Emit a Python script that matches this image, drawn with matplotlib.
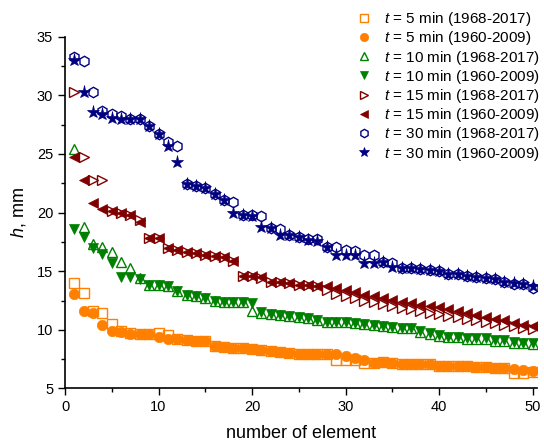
import matplotlib
matplotlib.use("Agg")
import matplotlib.pyplot as plt
from matplotlib.ticker import MultipleLocator

plt.rcParams['font.family'] = ['Liberation Sans', 'DejaVu Sans']
plt.rcParams['mathtext.fontset'] = 'custom'
plt.rcParams['mathtext.rm'] = 'Liberation Sans'
plt.rcParams['mathtext.it'] = 'Liberation Sans:italic'

# element numbers
elements = list(range(1, 51))

# t = 5 min
h5_new = [13.97, 13.15, 11.6, 11.45, 10.5, 9.9, 9.7, 9.65, 9.65, 9.76,
          9.56, 9.22, 9.14, 9.05, 9.05, 8.63, 8.51, 8.43, 8.43, 8.34,
          8.3, 8.2, 8.15, 8.0, 7.97, 7.97, 7.9, 7.9, 7.47, 7.47,
          7.47, 7.2, 7.2, 7.25, 7.2, 7.1, 7.1, 7.05, 7.05, 6.95,
          6.95, 6.9, 6.9, 6.85, 6.85, 6.77, 6.77, 6.35, 6.35, 6.4]
h5_old = [13.1, 11.65, 11.4, 10.45, 9.93, 9.85, 9.65, 9.65, 9.65, 9.37,
          9.22, 9.22, 9.14, 9.05, 9.05, 8.63, 8.51, 8.43, 8.43, 8.34,
          8.3, 8.2, 8.15, 8.0, 7.97, 7.97, 7.9, 7.9, 7.9, 7.76,
          7.62, 7.4, 7.2, 7.25, 7.2, 7.1, 7.1, 7.05, 7.05, 6.95,
          6.95, 6.9, 6.9, 6.85, 6.85, 6.77, 6.77, 6.7, 6.6, 6.5]

# t = 10 min
h10_new = [25.4, 18.8, 17.3, 17.1, 16.6, 15.8, 15.25, 14.4, 13.8, 13.8,
           13.7, 13.35, 13.0, 12.9, 12.7, 12.5, 12.4, 12.4, 12.4, 11.6,
           11.45, 11.35, 11.27, 11.2, 11.13, 11.0, 10.84, 10.7, 10.7, 10.65,
           10.56, 10.5, 10.42, 10.35, 10.27, 10.2, 10.13, 9.8, 9.65, 9.5,
           9.35, 9.35, 9.2, 9.2, 9.2, 9.05, 9.05, 8.92, 8.85, 8.8]
h10_old = [18.6, 17.95, 16.95, 16.5, 15.7, 14.55, 14.55, 14.3, 13.8, 13.8,
           13.7, 13.35, 13.0, 12.9, 12.7, 12.5, 12.4, 12.4, 12.4, 12.3,
           11.5, 11.35, 11.27, 11.2, 11.13, 11.0, 10.84, 10.7, 10.7, 10.65,
           10.56, 10.5, 10.42, 10.35, 10.27, 10.2, 10.13, 9.9, 9.71, 9.56,
           9.42, 9.42, 9.28, 9.28, 9.28, 9.14, 9.14, 8.99, 8.92, 8.85]

# t = 15 min
h15_new = [30.3, 24.7, 22.8, 22.8, 20.1, 19.95, 19.8, 19.4, 17.85, 17.8,
           17.0, 16.8, 16.6, 16.55, 16.4, 16.3, 16.2, 15.9, 14.6, 14.6,
           14.4, 14.1, 14.05, 13.97, 13.85, 13.8, 13.7, 13.4, 13.1, 12.85,
           12.7, 12.5, 12.35, 12.2, 12.05, 11.9, 11.75, 11.6, 11.45, 11.35,
           11.2, 11.1, 10.95, 10.85, 10.7, 10.6, 10.45, 10.35, 10.2, 10.05]
h15_old = [24.7, 22.8, 20.8, 20.3, 20.1, 19.95, 19.8, 19.2, 17.85, 17.8,
           17.0, 16.8, 16.6, 16.55, 16.4, 16.3, 16.2, 15.9, 14.6, 14.6,
           14.5, 14.1, 14.05, 13.97, 13.85, 13.8, 13.75, 13.75, 13.55, 13.4,
           13.2, 13.0, 12.85, 12.7, 12.55, 12.4, 12.25, 12.1, 12.0, 11.95,
           11.8, 11.6, 11.45, 11.3, 11.1, 10.95, 10.8, 10.6, 10.45, 10.3]

# t = 30 min
h30_new = [33.3, 32.9, 30.3, 28.7, 28.4, 28.2, 28.0, 28.0, 27.4, 26.7,
           26.0, 25.7, 22.4, 22.3, 22.1, 21.6, 21.1, 20.9, 19.8, 19.8,
           19.75, 18.65, 18.6, 18.1, 17.9, 17.75, 17.75, 17.1, 17.1, 16.8,
           16.7, 16.4, 16.4, 15.75, 15.7, 15.25, 15.25, 15.15, 15.1, 15.05,
           14.8, 14.75, 14.6, 14.55, 14.4, 14.35, 14.1, 13.9, 13.9, 13.6]
h30_old = [33.0, 30.3, 28.6, 28.4, 28.1, 28.0, 28.0, 28.0, 27.4, 26.7,
           25.7, 24.3, 22.4, 22.3, 22.1, 21.6, 21.1, 19.95, 19.8, 19.75,
           18.75, 18.65, 18.1, 18.1, 17.9, 17.7, 17.6, 17.1, 16.4, 16.4,
           16.4, 15.7, 15.7, 15.75, 15.4, 15.25, 15.25, 15.15, 15.1, 15.05,
           14.8, 14.75, 14.6, 14.55, 14.4, 14.35, 14.1, 14.0, 13.9, 13.75]

ORANGE = '#FF8000'
GREEN = '#008000'
DARKRED = '#800000'
NAVY = '#000080'

series = [
    (h5_new, 's', ORANGE, True, '$t$ = 5 min (1968-2017)'),
    (h5_old, 'o', ORANGE, False, '$t$ = 5 min (1960-2009)'),
    (h10_new, '^', GREEN, True, '$t$ = 10 min (1968-2017)'),
    (h10_old, 'v', GREEN, False, '$t$ = 10 min (1960-2009)'),
    (h15_new, '>', DARKRED, True, '$t$ = 15 min (1968-2017)'),
    (h15_old, '<', DARKRED, False, '$t$ = 15 min (1960-2009)'),
    (h30_new, 'h', NAVY, True, '$t$ = 30 min (1968-2017)'),
    (h30_old, '*', NAVY, False, '$t$ = 30 min (1960-2009)'),
]

fig = plt.figure(figsize=(5.44, 4.45), dpi=100)
ax = fig.add_axes([0.1195, 0.127, 0.868, 0.7905])

for vals, mk, col, hollow, lab in series:
    size = 9.5 if mk == '*' else 7.5
    if hollow:
        ax.plot(elements, vals, linestyle='none', marker=mk, markersize=size,
                markerfacecolor='none', markeredgecolor=col, markeredgewidth=1.0,
                label=lab)
    else:
        ax.plot(elements, vals, linestyle='none', marker=mk, markersize=size,
                color=col, markeredgewidth=0.5, label=lab)

ax.set_xlim(0, 50.5)
ax.set_ylim(5, 35)
ax.xaxis.set_major_locator(MultipleLocator(10))
ax.xaxis.set_minor_locator(MultipleLocator(5))
ax.yaxis.set_major_locator(MultipleLocator(5))
ax.yaxis.set_minor_locator(MultipleLocator(2.5))
ax.tick_params(which='major', direction='out', length=5, width=1, labelsize=10.5)
ax.tick_params(which='minor', direction='out', length=3, width=1)
ax.spines['top'].set_visible(False)
ax.spines['right'].set_visible(False)
ax.spines['left'].set_linewidth(1.2)
ax.spines['bottom'].set_linewidth(1.2)

ax.set_xlabel('number of element', fontsize=13, labelpad=8)
ax.set_ylabel('$h$, mm', fontsize=13, labelpad=6)

ax.legend(loc='upper left', bbox_to_anchor=(0.605, 1.093), frameon=False,
          fontsize=11, handletextpad=0.8, labelspacing=0.08,
          borderaxespad=0, handlelength=1.0, markerscale=0.8)

fig.savefig('out.png', dpi=100)
